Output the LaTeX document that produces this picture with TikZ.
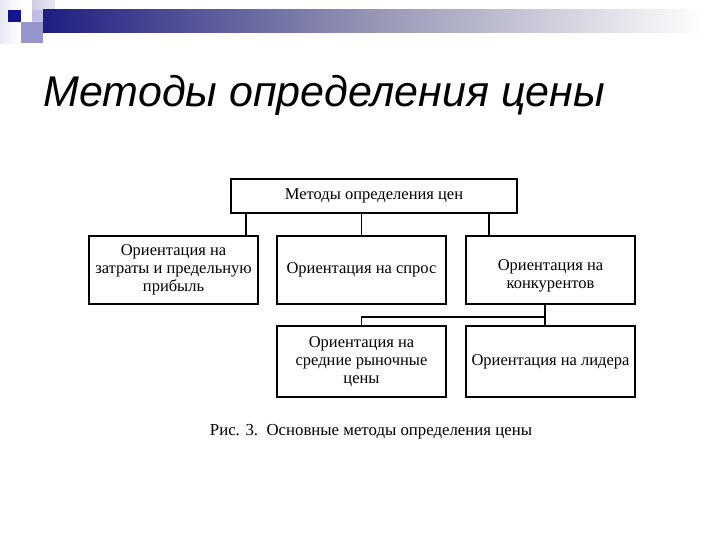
\documentclass[tikz,border=0pt]{standalone}
\usepackage{fontspec}
\setmainfont{Liberation Serif}
\newfontfamily\titlefont{Liberation Sans}
\definecolor{navyA}{RGB}{30,30,130}
\definecolor{midA}{RGB}{150,150,180}
\definecolor{sqA}{RGB}{150,150,205}
\definecolor{sqB}{RGB}{185,185,225}
\definecolor{sqDark}{RGB}{20,20,140}
\definecolor{paleA}{RGB}{232,232,244}
\definecolor{paleB}{RGB}{205,205,228}
\begin{document}
\begin{tikzpicture}[x=1pt,y=-1pt,
  box/.style={draw=black,line width=1.5pt,fill=white,rectangle,align=center,
    inner sep=1pt,font=\fontsize{16.5}{18}\selectfont},
  boxtext/.style={align=center,inner sep=1pt,font=\fontsize{16.5}{18}\selectfont},
  conn/.style={draw=black,line width=1.6pt}]
\useasboundingbox (0,0) rectangle (720,540);
\fill[white] (0,0) rectangle (720,540);
% decoration
\fill[left color=paleA,right color=white] (0,0) rectangle (20,44);
\fill[left color=paleB,right color=paleA] (32,0) rectangle (55,21);
\fill[left color=navyA,right color=white,middle color=midA] (43,10) rectangle (705,33);
\fill[sqA] (21,22) rectangle (43,43);
\fill[sqB,opacity=0.8] (32,10) rectangle (43,22);
\fill[sqDark] (8,10) rectangle (21,22);
% title
\node[anchor=west,font=\titlefont\itshape\fontsize{43}{46}\selectfont] (title) at (40,95) {Методы определения цены};
% boxes
\node[box,minimum width=286,minimum height=34] (top) at (374,196) {Методы определения цен};
\node[box,minimum width=169,minimum height=68] (b1) at (173.5,270) {Ориентация на\\затраты и предельную\\прибыль};
\node[box,minimum width=169,minimum height=68] (b2) at (361.5,270) {Ориентация на спрос};
\node[box,minimum width=169,minimum height=68] (b3) at (550.5,270) {};
\node[boxtext] (b3t) at ([yshift=-6]b3.center) {Ориентация на\\конкурентов};
\node[box,minimum width=169,minimum height=71] (b4) at (361.5,361.5) {Ориентация на\\средние рыночные\\цены};
\node[box,minimum width=169,minimum height=71] (b5) at (550.5,361.5) {Ориентация на лидера};
% connectors
\draw[conn] ([xshift=16]top.south west) -- ([xshift=16]top.south west |- b1.north);
\draw[conn] (b2.north |- top.south) -- (b2.north);
\draw[conn] ([xshift=24]b3.north west |- top.south) -- ([xshift=24]b3.north west);
\coordinate (j) at (545,317);
\draw[conn] (j |- b3.south) -- (j) -- (j -| b4.north) -- (b4.north);
\draw[conn] (j) -- (j |- b5.north);
% caption
\node[font=\fontsize{16.8}{18}\selectfont] (cap) at (371,432) {Рис. 3.\ \ Основные методы определения цены};
\end{tikzpicture}
\end{document}
